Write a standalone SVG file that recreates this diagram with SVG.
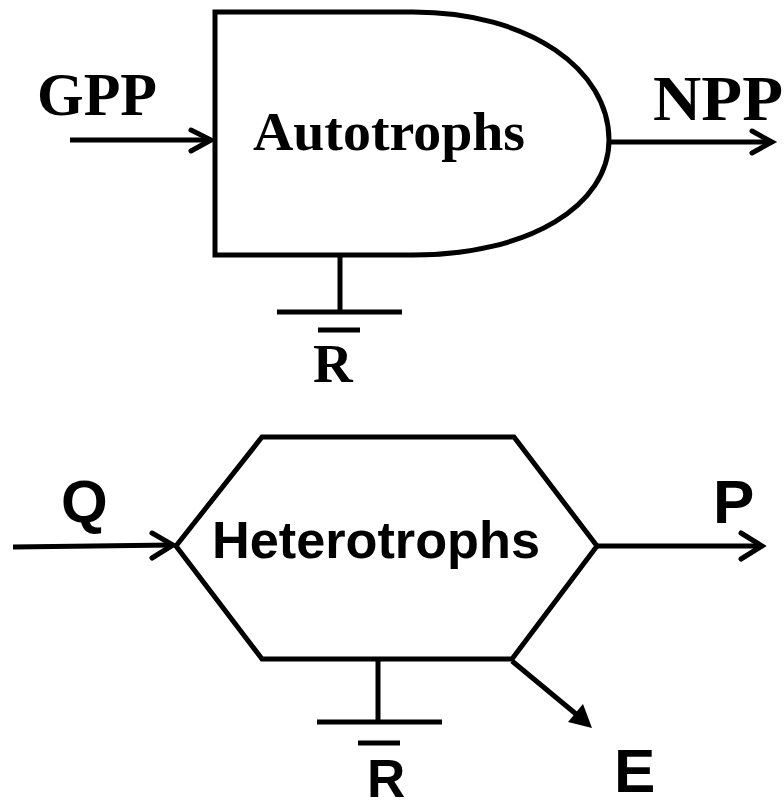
<svg xmlns="http://www.w3.org/2000/svg" width="784" height="811" viewBox="0 0 784 811">
<style>
.ln{fill:none;stroke:#000;stroke-width:5;stroke-linecap:butt;stroke-linejoin:miter}
.chev{fill:none;stroke:#000;stroke-width:5;stroke-linecap:round;stroke-linejoin:miter}
.serif{font-family:"Liberation Serif","Times New Roman",serif;font-weight:bold;fill:#000}
.sans{font-family:"Liberation Sans",Arial,sans-serif;font-weight:bold;fill:#000}
</style>
<rect width="784" height="811" fill="#fff"/>
<g id="autotrophs">
<path class="ln" d="M413,12 H215 V255 H413 C530,255 609,205 609,140 C609,70 530,12 413,12 Z"/>
<text class="serif" x="253" y="150" font-size="55" textLength="272" lengthAdjust="spacingAndGlyphs">Autotrophs</text>
</g>
<g id="heterotrophs">
<path class="ln" d="M262,437 H514 L597,546 L512,659 H262 L176,546 Z"/>
<text class="sans" x="212" y="558" font-size="52" textLength="328" lengthAdjust="spacingAndGlyphs">Heterotrophs</text>
</g>
<g id="labels">
<text class="serif" x="37" y="115" font-size="62" textLength="120" lengthAdjust="spacingAndGlyphs">GPP</text>
<text class="serif" x="653" y="120" font-size="64" textLength="130" lengthAdjust="spacingAndGlyphs">NPP</text>
<text class="serif" x="313" y="382" font-size="55">R</text>
<line class="ln" x1="318" y1="330" x2="360" y2="330" stroke-width="4"/>
<text class="sans" x="61" y="522" font-size="60">Q</text>
<text class="sans" x="713" y="523" font-size="62">P</text>
<text class="sans" x="614" y="792" font-size="62">E</text>
<text class="sans" x="367" y="797" font-size="53">R</text>
<line class="ln" x1="358" y1="743" x2="400" y2="743" stroke-width="4"/>
</g>
<g id="connectors">
<line class="ln" x1="70" y1="140" x2="211" y2="140"/>
<polyline class="chev" points="191,130 211,140 191,151"/>
<line class="ln" x1="609" y1="142" x2="772" y2="142"/>
<polyline class="chev" points="752,131 772,142 752,153"/>
<line class="ln" x1="340" y1="255" x2="340" y2="312" stroke-width="4"/>
<line class="ln" x1="277" y1="312" x2="402" y2="312"/>
<line class="ln" x1="13" y1="547" x2="173" y2="545"/>
<polyline class="chev" points="152,533 173,545 152,558"/>
<line class="ln" x1="597" y1="546" x2="762" y2="546"/>
<polyline class="chev" points="741,533 762,546 741,559"/>
<line class="ln" x1="378" y1="659" x2="378" y2="722" stroke-width="4"/>
<line class="ln" x1="317" y1="722" x2="442" y2="722"/>
<line class="ln" x1="512" y1="661" x2="576" y2="714"/>
<polygon points="592,728 568,722 583,704" fill="#000"/>
</g>
</svg>
